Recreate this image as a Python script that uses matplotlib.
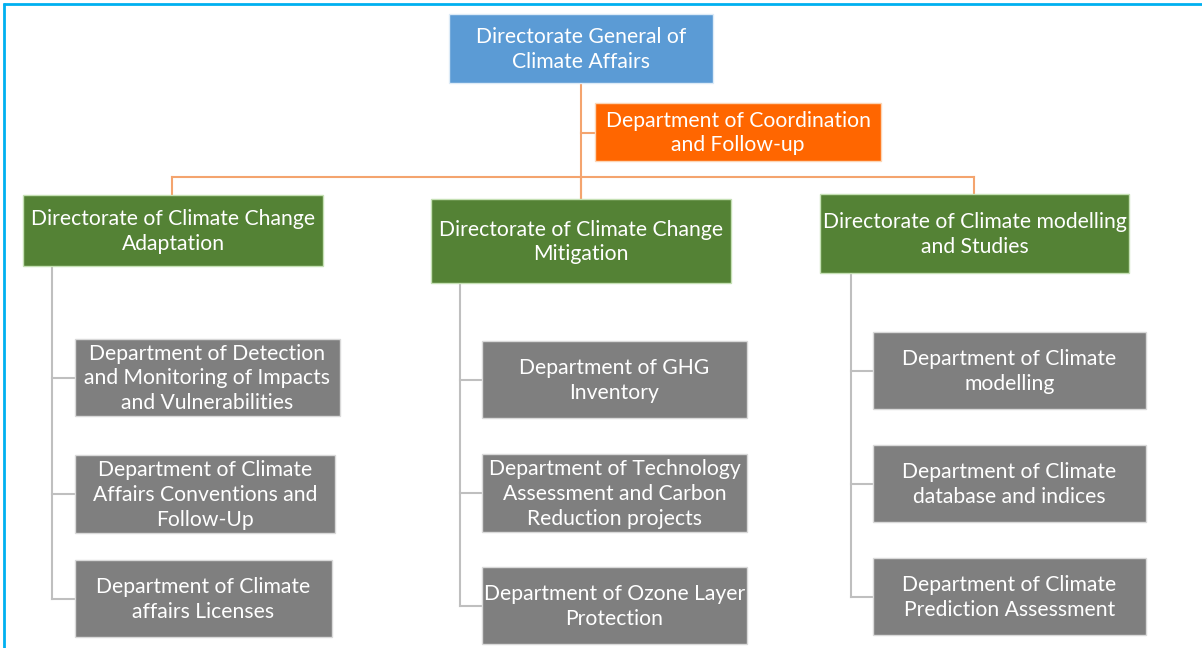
import matplotlib.pyplot as plt
from matplotlib.patches import Rectangle

# org chart content
top_label = "Directorate General of\nClimate Affairs"
coord_label = "Department of Coordination\nand Follow-up"
directorates = [
    "Directorate of Climate Change\nAdaptation",
    "Directorate of Climate Change\nMitigation",
    "Directorate of Climate modelling\nand Studies",
]
departments = [
    ["Department of Detection\nand Monitoring of Impacts\nand Vulnerabilities",
     "Department of Climate\nAffairs Conventions and\nFollow-Up",
     "Department of Climate\naffairs Licenses"],
    ["Department of GHG\nInventory",
     "Department of Technology\nAssessment and Carbon\nReduction projects",
     "Department of Ozone Layer\nProtection"],
    ["Department of Climate\nmodelling",
     "Department of Climate\ndatabase and indices",
     "Department of Climate\nPrediction Assessment"],
]

# layout (pixel boxes: x0, y0, x1, y1)
top_box = (449, 14, 713, 83)
coord_box = (595, 103, 881, 161)
dir_boxes = [(23, 195, 323, 266), (431, 199, 731, 283), (820, 194, 1129, 273)]
dept_boxes = [
    [(75, 339, 340, 416), (75, 455, 335, 533), (75, 560, 332, 637)],
    [(482, 341, 747, 418), (482, 454, 747, 532), (482, 567, 747, 644)],
    [(873, 332, 1146, 409), (873, 445, 1146, 522), (873, 558, 1146, 635)],
]
drop_x = [172, 581, 974]
spine_x = [52, 460, 851]

BLUE = "#5B9BD5"
ORANGE = "#FF6600"
GREEN = "#548235"
GRAY = "#7F7F7F"
ORANGE_LINE = "#F4A46E"
GRAY_LINE = "#BFBFBF"
FONT = "Lato"

fig = plt.figure(figsize=(12.02, 6.48), dpi=100)
ax = fig.add_axes([0, 0, 1, 1])
ax.set_xlim(0, 1202)
ax.set_ylim(648, 0)
ax.axis("off")


def box(b, color, label, edge="white"):
    x0, y0, x1, y1 = b
    ax.add_patch(Rectangle((x0, y0), x1 - x0, y1 - y0, facecolor=color,
                           edgecolor=edge, linewidth=1, zorder=3))
    ax.text((x0 + x1) / 2, (y0 + y1) / 2 + 1, label, ha="center", va="center",
            color="white", fontsize=15.2, family=FONT, linespacing=1.3,
            zorder=4)


# frame lines (top and left only)
ax.plot([3, 1202], [3.5, 3.5], color="#00B0F0", lw=2.0, solid_capstyle="butt")
ax.plot([3.5, 3.5], [3, 648], color="#00B0F0", lw=2.0, solid_capstyle="butt")

# orange connectors
mid_x = (top_box[0] + top_box[2]) / 2
bar_y = 177
ax.plot([mid_x, mid_x], [top_box[3], dir_boxes[1][1]], color=ORANGE_LINE, lw=1.5)
ax.plot([mid_x, coord_box[0]], [133, 133], color=ORANGE_LINE, lw=1.5)
ax.plot([drop_x[0], drop_x[2]], [bar_y, bar_y], color=ORANGE_LINE, lw=1.5)
for i, dx in enumerate(drop_x):
    ax.plot([dx, dx], [bar_y, dir_boxes[i][1]], color=ORANGE_LINE, lw=1.5)

# gray connectors
for i, sx in enumerate(spine_x):
    ys = [(b[1] + b[3]) / 2 for b in dept_boxes[i]]
    ax.plot([sx, sx], [dir_boxes[i][3], ys[-1]], color=GRAY_LINE, lw=1.5)
    for b, y in zip(dept_boxes[i], ys):
        ax.plot([sx, b[0]], [y, y], color=GRAY_LINE, lw=1.5)

box(top_box, BLUE, top_label, edge="#DDEBF7")
box(coord_box, ORANGE, coord_label, edge="#FBD5B5")
for b, lab in zip(dir_boxes, directorates):
    box(b, GREEN, lab, edge="#C5E0B4")
for bs, labs in zip(dept_boxes, departments):
    for b, lab in zip(bs, labs):
        box(b, GRAY, lab, edge="#D9D9D9")

fig.savefig("out.png", dpi=100, facecolor="white")
